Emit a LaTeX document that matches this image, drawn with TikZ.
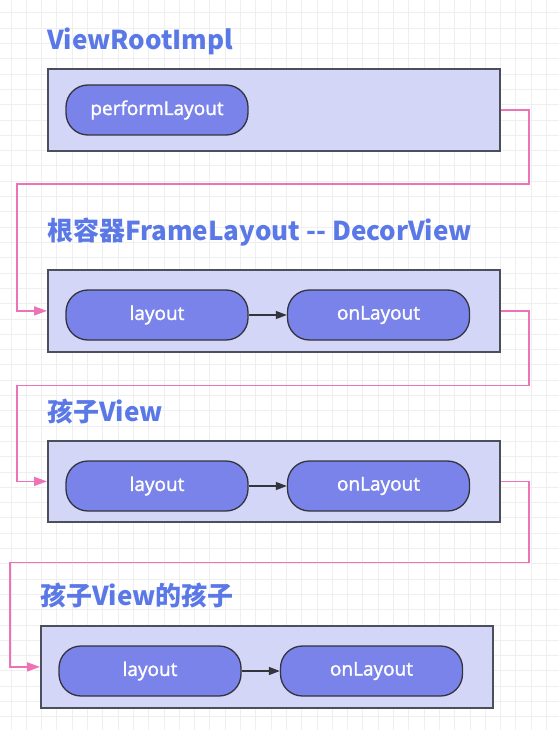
\documentclass[tikz,border=0pt]{standalone}
\usepackage{fontspec}
\setmainfont{Open Sans}
\newfontfamily\pillfont[FakeBold=1.6]{Open Sans}
\newfontfamily\titlefont{Noto Sans CJK SC}
\usetikzlibrary{arrows.meta}
\definecolor{gridc}{HTML}{EFEFEF}
\definecolor{boxfill}{HTML}{D3D6F7}
\definecolor{boxline}{HTML}{4B4F5C}
\definecolor{pillfill}{HTML}{7983EA}
\definecolor{pillline}{HTML}{33343C}
\definecolor{titlec}{HTML}{5B79E6}
\definecolor{pinkc}{HTML}{EE72B6}
\tikzset{
  gridline/.style={draw=gridc, line width=1pt},
  layerbox/.style={draw=boxline, fill=boxfill, line width=1.8pt, rectangle, inner sep=0pt, minimum width=452pt, minimum height=82pt, anchor=north west},
  pill/.style={draw=pillline, fill=pillfill, line width=1.3pt, rectangle, rounded corners=22pt, inner sep=0pt, minimum width=182pt, minimum height=50pt, text=white, font=\pillfont\fontsize{19}{21}\selectfont},
  titletext/.style={text=titlec, font=\titlefont\bfseries\fontsize{26}{30}\selectfont, inner sep=0pt, anchor=base west},
  flow/.style={draw=pinkc, line width=1.6pt, -{Triangle[length=13pt,width=9pt]}},
  step arrow/.style={draw=pillline, line width=1.3pt, -{Triangle[length=11pt,width=8pt]}}
}
\begin{document}
\begin{tikzpicture}[x=1pt,y=-1pt]
\useasboundingbox (0,0) rectangle (559,730);
\fill[white] (0,0) rectangle (559,730);
\foreach \i in {0,...,36} {\draw[gridline] ({11+15.3*\i},0) -- ({11+15.3*\i},730);}
\foreach \i in {0,...,47} {\draw[gridline] (0,{13+15.3*\i}) -- (559,{13+15.3*\i});}

% titles
\node[titletext] (t1) at (47,50) {ViewRootImpl};
\node[titletext] (t2) at (47,240) {根容器FrameLayout -- DecorView};
\node[titletext] (t3) at (47,421) {孩子View};
\node[titletext] (t4) at (40,605) {孩子View的孩子};

% boxes
\node[layerbox] (b1) at (47,68) {};
\node[layerbox] (b2) at (47,269) {};
\node[layerbox, minimum height=81pt] (b3) at (47,440) {};
\node[layerbox] (b4) at (40,625) {};

% pills
\node[pill] (p1) at (157,110) {performLayout};
\node[pill] (l2) at (157,315) {layout};
\node[pill] (o2) at (378.5,315) {onLayout};
\node[pill] (l3) at (157,486) {layout};
\node[pill] (o3) at (378.5,486) {onLayout};
\node[pill] (l4) at (150,671) {layout};
\node[pill] (o4) at (371.5,671) {onLayout};

\draw[step arrow] (l2) -- (o2);
\draw[step arrow] (l3) -- (o3);
\draw[step arrow] (l4) -- (o4);

% connectors
\coordinate (r1) at (529,184);
\coordinate (q1) at (17,184);
\coordinate (r2) at (529,385.5);
\coordinate (q2) at (17,385.5);
\coordinate (r3) at (529,562.5);
\coordinate (q3) at (10,562.5);
\draw[flow] (b1.east) -| (r1) -- (q1) |- (b2.west);
\draw[flow] (b2.east) -| (r2) -- (q2) |- (b3.west);
\draw[flow] (b3.east) -| (r3) -- (q3) |- (b4.west);
\end{tikzpicture}
\end{document}
